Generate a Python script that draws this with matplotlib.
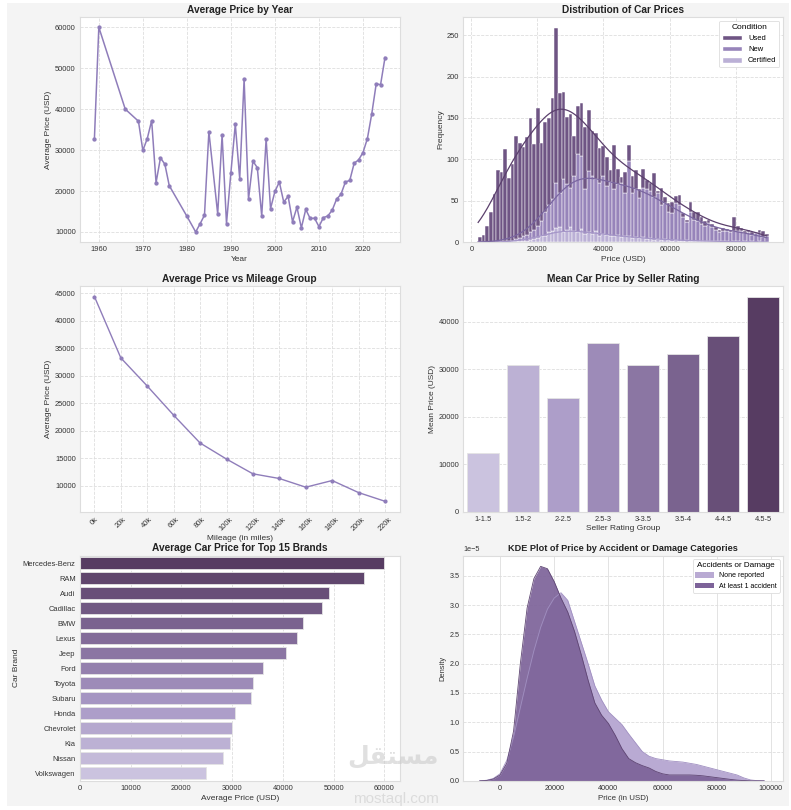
import matplotlib
matplotlib.use("Agg")
import matplotlib.pyplot as plt
import matplotlib.colors as mcolors
from matplotlib.patches import Patch, Rectangle
import numpy as np

plt.rcParams['font.family'] = ['Liberation Sans', 'DejaVu Sans']

# ---- data ----
years = [1959, 1960, 1966, 1969, 1970, 1971, 1972, 1973, 1974, 1975, 1976,
         1980, 1982, 1983, 1984, 1985, 1987, 1988, 1989, 1990, 1991, 1992,
         1993, 1994, 1995, 1996, 1997, 1998, 1999, 2000, 2001, 2002, 2003,
         2004, 2005, 2006, 2007, 2008, 2009, 2010, 2011, 2012, 2013, 2014,
         2015, 2016, 2017, 2018, 2019, 2020, 2021, 2022, 2023, 2024, 2025]
year_price = [32800, 60000, 40000, 37050, 29900, 32800, 37200, 22050, 28100,
              26550, 21300, 13850, 10000, 12000, 14100, 34500, 14400, 33600,
              12050, 24500, 36300, 23000, 47300, 18000, 27300, 25700, 13900,
              32700, 15700, 19900, 22200, 17300, 18700, 12500, 16050, 11000,
              15500, 13300, 13350, 11300, 13500, 13900, 15300, 18000, 19200,
              22200, 22600, 26800, 27600, 29400, 32800, 38900, 46150, 46000,
              52600]

# histogram: 80 bins of 1100 USD from 2000 to 90000, stack tops per bin
bin_start, bin_width, n_bins = 2000, 1100, 80
hist_total = [6, 9, 19, 37, 58, 87, 85, 112, 78, 94,
              128, 120, 115, 127, 150, 118, 162, 120, 145, 150,
              174, 259, 180, 181, 151, 155, 128, 164, 168, 139,
              160, 134, 132, 114, 116, 103, 87, 117, 88, 79,
              85, 117, 80, 87, 64, 89, 75, 72, 84, 62,
              65, 55, 47, 48, 56, 57, 35, 27, 49, 37,
              37, 31, 25, 27, 22, 18, 15, 17, 16, 15,
              30, 20, 17, 14, 15, 12, 12, 15, 14, 10]
hist_new_top = [0, 0, 0, 0, 0, 0, 1, 1, 2, 2,
                4, 5, 7, 9, 12, 15, 20, 25, 37, 45,
                52, 72, 60, 76, 70, 66, 80, 106, 104, 64,
                86, 80, 76, 72, 80, 68, 73, 64, 70, 72,
                60, 98, 60, 64, 53, 66, 64, 62, 55, 60,
                45, 47, 37, 35, 47, 45, 30, 24, 37, 27,
                25, 22, 19, 23, 18, 15, 12, 14, 13, 12,
                14, 14, 13, 11, 12, 9, 11, 11, 6, 7]
hist_certified = [0, 0, 0, 0, 0, 0, 0, 0, 0, 1,
                  1, 1, 2, 2, 3, 4, 5, 7, 8, 12,
                  14, 17, 18, 12, 15, 18, 14, 12, 16, 10,
                  12, 10, 14, 8, 10, 9, 8, 7, 9, 6,
                  8, 7, 5, 6, 5, 6, 4, 5, 3, 4,
                  3, 4, 3, 2, 3, 2, 2, 3, 2, 1,
                  2, 1, 2, 1, 1, 1, 1, 1, 1, 0,
                  1, 1, 0, 1, 0, 1, 0, 1, 0, 0]

mileage_labels = ['0k', '20k', '40k', '60k', '80k', '100k', '120k', '140k',
                  '160k', '180k', '200k', '220k']
mileage_price = [44400, 33250, 28140, 22840, 17790, 14870, 12190, 11340,
                 9760, 10970, 8780, 7200]

rating_groups = ['1-1.5', '1.5-2', '2-2.5', '2.5-3', '3-3.5', '3.5-4',
                 '4-4.5', '4.5-5']
rating_price = [12300, 30950, 23960, 35480, 30950, 33220, 37100, 45230]

brands = ['Mercedes-Benz', 'RAM', 'Audi', 'Cadillac', 'BMW', 'Lexus', 'Jeep',
          'Ford', 'Toyota', 'Subaru', 'Honda', 'Chevrolet', 'Kia', 'Nissan',
          'Volkswagen']
brand_price = [60000, 55920, 49010, 47700, 43880, 42760, 40660, 36180, 34140,
               33750, 30530, 29930, 29670, 28290, 24870]

kde_x = list(range(-7500, 97501, 2500))
kde_none = [0.0, 0.01, 0.04, 0.12, 0.35, 0.75, 1.25, 1.75, 2.22, 2.62, 2.93,
            3.12, 3.21, 3.08, 2.72, 2.36, 2.0, 1.62, 1.38, 1.18, 1.07, 0.96,
            0.8, 0.65, 0.5, 0.42, 0.38, 0.36, 0.34, 0.33, 0.32, 0.3, 0.28,
            0.25, 0.22, 0.19, 0.16, 0.13, 0.1, 0.05, 0.015, 0.003, 0.0]
kde_accident = [0.0, 0.005, 0.03, 0.1, 0.3, 0.85, 2.0, 2.95, 3.45, 3.66, 3.62,
                3.4, 3.12, 2.88, 2.55, 2.15, 1.72, 1.33, 1.12, 0.98, 0.78,
                0.55, 0.38, 0.31, 0.26, 0.22, 0.16, 0.12, 0.1, 0.1, 0.1, 0.1,
                0.095, 0.085, 0.07, 0.055, 0.04, 0.025, 0.012, 0.005, 0.0,
                0.0, 0.0]

# ---- style helpers ----
line_col = '#8f7dba'
purp = mcolors.LinearSegmentedColormap.from_list(
    'purp', ['#cbc3df', '#a898c5', '#806996', '#573c62'])
title_kw = dict(fontsize=7.3, fontweight='bold', color='#222222', pad=3)
lab_kw = dict(fontsize=6, color='#333333', labelpad=2)


def style(ax, xgrid=True, ygrid=True, xls='--', tsize=5.4):
    ax.set_facecolor('white')
    for s in ax.spines.values():
        s.set_color('#dddddd')
        s.set_linewidth(0.8)
    ax.tick_params(length=0, labelsize=tsize, colors='#333333', pad=3)
    if xgrid:
        ax.grid(True, axis='x', linestyle=xls, color='#dedede', linewidth=0.6)
    if ygrid:
        ax.grid(True, axis='y', linestyle='--', color='#dedede', linewidth=0.6)
    ax.set_axisbelow(True)


fig = plt.figure(figsize=(7.91, 8.10), dpi=100, facecolor='white')
fig.patches.append(Rectangle((7 / 791, 4 / 810), 782 / 791, 803 / 810,
                             transform=fig.transFigure, facecolor='#f4f4f4',
                             edgecolor='none', zorder=-1))
axes = fig.subplots(3, 2)
fig.subplots_adjust(left=0.101, right=0.99, top=0.979, bottom=0.036,
                    wspace=0.2, hspace=0.196)

# 1. Average price by year
ax = axes[0, 0]
style(ax)
ax.plot(years, year_price, marker='o', ms=2.1, lw=1.1, color=line_col)
ax.set_xticks([1960, 1970, 1980, 1990, 2000, 2010, 2020])
ax.set_title('Average Price by Year', **title_kw)
ax.set_xlabel('Year', **lab_kw)
ax.set_ylabel('Average Price (USD)', **lab_kw)

# 2. Distribution of car prices (stacked histogram + stacked kde)
ax = axes[0, 1]
style(ax)
total = np.array(hist_total, float)
new_top = np.array(hist_new_top, float)
cert = np.array(hist_certified, float)
groups = {'Used': total - new_top, 'New': new_top - cert, 'Certified': cert}
left_edges = bin_start + bin_width * np.arange(n_bins)
centers = left_edges + bin_width / 2
bar_cols = {'Used': '#6f5584', 'New': '#9784ba', 'Certified': '#bbb0d6'}
kde_cols = {'Used': '#5b406d', 'New': '#7a66a0', 'Certified': '#a596c8'}
bottom = np.zeros(n_bins)
grid = np.linspace(centers[0] - 500, centers[-1], 400)
kde_base = np.zeros_like(grid)
for name in ['Certified', 'New', 'Used']:
    cnt = groups[name]
    ax.bar(left_edges, cnt, width=bin_width, bottom=bottom, align='edge',
           color=bar_cols[name], edgecolor='white', linewidth=0.35)
    bottom = bottom + cnt
    w = cnt / cnt.sum()
    mu = np.sum(w * centers)
    sd = np.sqrt(np.sum(w * (centers - mu) ** 2))
    h = 0.75 * sd * (1 / np.sum(w ** 2)) ** (-0.2)
    dens = np.sum(w[:, None] * np.exp(-0.5 * ((grid[None, :] - centers[:, None]) / h) ** 2),
                  axis=0) / (h * np.sqrt(2 * np.pi))
    kde_base = kde_base + dens * cnt.sum() * bin_width
    ax.plot(grid, kde_base, color=kde_cols[name], lw=0.9)
ax.set_xticks([0, 20000, 40000, 60000, 80000])
ax.set_title('Distribution of Car Prices', **title_kw)
ax.set_xlabel('Price (USD)', **lab_kw)
ax.set_ylabel('Frequency', **lab_kw)
handles = [Patch(facecolor=bar_cols[n], edgecolor='white', label=n)
           for n in ['Used', 'New', 'Certified']]
leg = ax.legend(handles=handles, title='Condition', loc='upper right',
                fontsize=5.4, title_fontsize=6, frameon=True, framealpha=1,
                edgecolor='#dddddd', handlelength=2.6, handleheight=0.8)
leg.get_frame().set_linewidth(0.6)

# 3. Average price vs mileage group
ax = axes[1, 0]
style(ax)
ax.plot(range(len(mileage_labels)), mileage_price, marker='o', ms=2, lw=1.0,
        color=line_col)
ax.set_xticks(range(len(mileage_labels)))
ax.set_xticklabels(mileage_labels, rotation=45)
ax.set_title('Average Price vs Mileage Group', **title_kw)
ax.set_xlabel('Mileage (in miles)', **lab_kw)
ax.set_ylabel('Average Price (USD)', **lab_kw)

# 4. Mean price by seller rating
ax = axes[1, 1]
style(ax, xgrid=False)
ax.bar(rating_groups, rating_price, width=0.8,
       color=purp(np.linspace(0, 1, len(rating_groups))),
       edgecolor='#e4e4e4', linewidth=0.6)
ax.set_xlim(-0.5, len(rating_groups) - 0.5)
ax.set_title('Mean Car Price by Seller Rating', **title_kw)
ax.set_xlabel('Seller Rating Group', **lab_kw)
ax.set_ylabel('Mean Price (USD)', **lab_kw)

# 5. Top 15 brands
ax = axes[2, 0]
style(ax, ygrid=False)
ax.barh(brands, brand_price, height=0.8,
        color=purp(np.linspace(1, 0, len(brands))),
        edgecolor='#e4e4e4', linewidth=0.6)
ax.set_ylim(len(brands) - 0.5, -0.5)
ax.set_title('Average Car Price for Top 15 Brands', **title_kw)
ax.set_xlabel('Average Price (USD)', **lab_kw)
ax.set_ylabel('Car Brand', **lab_kw)

# 6. KDE by accident category
ax = axes[2, 1]
style(ax, xls='-', tsize=5.2)
xs = np.array(kde_x, float)
d_none = np.array(kde_none) * 1e-5
d_acc = np.array(kde_accident) * 1e-5
ax.fill_between(xs, d_none, color='#b9aad3', alpha=1, lw=0)
ax.plot(xs, d_none, color='#a08fc1', lw=0.6)
ax.fill_between(xs, d_acc, color='#7d6399', alpha=0.92, lw=0)
ax.plot(xs, d_acc, color='#5f4673', lw=0.6)
ax.set_xlim(-13500, 104500)
ax.set_ylim(bottom=0)
ax.set_xticks([0, 20000, 40000, 60000, 80000, 100000])
ax.yaxis.get_offset_text().set_fontsize(5.2)
ax.yaxis.get_offset_text().set_color('#333333')
ax.set_title('KDE Plot of Price by Accident or Damage Categories',
             fontsize=6.6, fontweight='bold', color='#222222', pad=3)
ax.set_xlabel('Price (in USD)', fontsize=5.7, color='#333333', labelpad=2)
ax.set_ylabel('Density', fontsize=5.4, color='#333333', labelpad=2)
handles = [Patch(facecolor='#b9aad3', label='None reported'),
           Patch(facecolor='#7d6399', label='At least 1 accident')]
leg = ax.legend(handles=handles, title='Accidents or Damage', loc='upper right',
                fontsize=5, title_fontsize=5.9, frameon=True, framealpha=1,
                edgecolor='#dddddd', handlelength=2.6, handleheight=0.8)
leg.get_frame().set_linewidth(0.6)

# watermark
fig.text(0.497, 0.066, '\ufede\ufed8\ufe98\ufeb4\ufee3', fontsize=18,
         fontweight='bold', family=['DejaVu Sans'], color='#c8c8c8',
         alpha=0.55, ha='center', va='center')
fig.text(0.5, 0.013, 'mostaql.com', fontsize=11, color='#c8c8c8',
         alpha=0.55, ha='center', va='center')

fig.savefig('out.png', dpi=100, facecolor=fig.get_facecolor())
